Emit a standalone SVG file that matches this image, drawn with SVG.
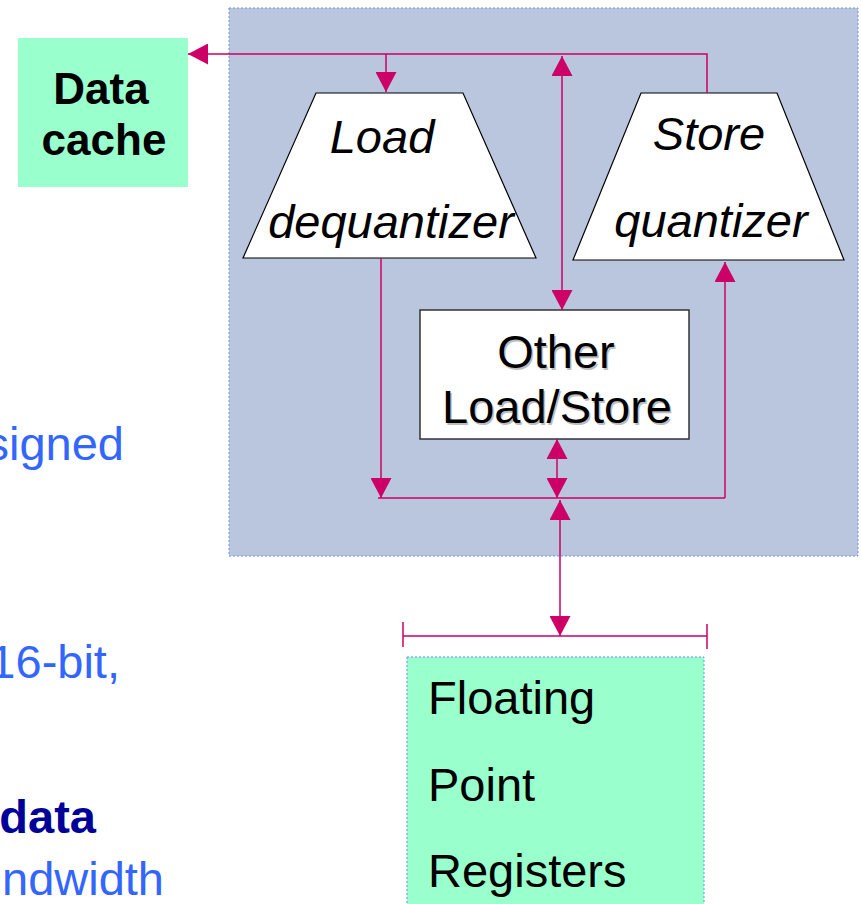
<svg xmlns="http://www.w3.org/2000/svg" width="861" height="904" viewBox="0 0 861 904">
<style>
.conn{stroke:#CC0066;stroke-width:1.5;fill:none}
.side{font-family:"Liberation Sans",Arial,sans-serif;font-size:47px;fill:#3366FF}
.lbl{font-family:"Liberation Sans",Arial,sans-serif;font-size:47px;fill:#000}
.it{font-style:italic;font-size:47px}
.shadow{fill:#BDBDBD}
</style>
<defs>
<marker id="ah" markerUnits="userSpaceOnUse" markerWidth="20" markerHeight="21" refX="20" refY="10.5" orient="auto-start-reverse" viewBox="0 0 20 21">
<path d="M0,0 L20,10.5 L0,21 z" fill="#CC0066"/>
</marker>
</defs>
<rect width="861" height="904" fill="#fff"/>
<g id="side-text">
<text class="side" x="124" y="460" text-anchor="end">signed</text>
<text class="side" x="120" y="678" text-anchor="end">16-bit,</text>
<text class="side" x="96" y="833" text-anchor="end" style="font-weight:bold;fill:#000099">data</text>
<text class="side" x="164" y="895" text-anchor="end">ndwidth</text>
</g>
<g id="panel">
<rect x="229" y="8" width="629" height="548" fill="#B9C6DE" stroke="#6F8FF0" stroke-width="1" stroke-dasharray="2,2"/>
</g>
<g id="data-cache">
<rect x="18" y="38" width="170" height="149" fill="#99FFCC"/>
<text class="lbl" x="101" y="104" text-anchor="middle" style="font-weight:bold;font-size:44px">Data</text>
<text class="lbl" x="104" y="155" text-anchor="middle" style="font-weight:bold;font-size:44px">cache</text>
</g>
<g id="load-dequantizer">
<polygon points="316,93 463,93 536,258 243,258" fill="#fff" stroke="#000" stroke-width="1.2"/>
<text class="lbl it" x="382" y="153" text-anchor="middle">Load</text>
<text class="lbl it" x="391" y="238" text-anchor="middle">dequantizer</text>
</g>
<g id="store-quantizer">
<polygon points="641,93 777,93 844,260 573,260" fill="#fff" stroke="#000" stroke-width="1.2"/>
<text class="lbl it" x="709" y="150" text-anchor="middle">Store</text>
<text class="lbl it" x="711" y="237" text-anchor="middle">quantizer</text>
</g>
<g id="other-load-store">
<rect x="420" y="310" width="269" height="129" fill="#fff" stroke="#333" stroke-width="1.5"/>
<text class="lbl shadow" x="557.5" y="369.5" text-anchor="middle">Other</text>
<text class="lbl shadow" x="558.5" y="424.5" text-anchor="middle">Load/Store</text>
<text class="lbl" x="556" y="368" text-anchor="middle">Other</text>
<text class="lbl" x="557" y="423" text-anchor="middle">Load/Store</text>
</g>
<g id="fp-registers">
<rect x="407" y="657" width="297" height="260" fill="#99FFCC" stroke="#6F8FF0" stroke-width="1" stroke-dasharray="2,2"/>
<text class="lbl" x="428" y="714">Floating</text>
<text class="lbl" x="428" y="801">Point</text>
<text class="lbl" x="428" y="887">Registers</text>
</g>
<g id="connectors">
<polyline class="conn" points="707,93 707,54 188,54" marker-end="url(#ah)"/>
<line class="conn" x1="386" y1="54" x2="386" y2="92" marker-end="url(#ah)"/>
<line class="conn" x1="562" y1="56" x2="562" y2="310" marker-start="url(#ah)" marker-end="url(#ah)"/>
<line class="conn" x1="381" y1="258" x2="381" y2="498" marker-end="url(#ah)"/>
<line class="conn" x1="725" y1="498" x2="725" y2="262" marker-end="url(#ah)"/>
<line class="conn" x1="378" y1="498" x2="725" y2="498"/>
<line class="conn" x1="557" y1="439" x2="557" y2="498" marker-start="url(#ah)" marker-end="url(#ah)"/>
<line class="conn" x1="560" y1="500" x2="560" y2="636" marker-start="url(#ah)" marker-end="url(#ah)"/>
<line class="conn" x1="403" y1="636" x2="707" y2="636"/>
<line class="conn" x1="403" y1="622" x2="403" y2="647"/>
<line class="conn" x1="707" y1="624" x2="707" y2="649"/>
</g>
</svg>
